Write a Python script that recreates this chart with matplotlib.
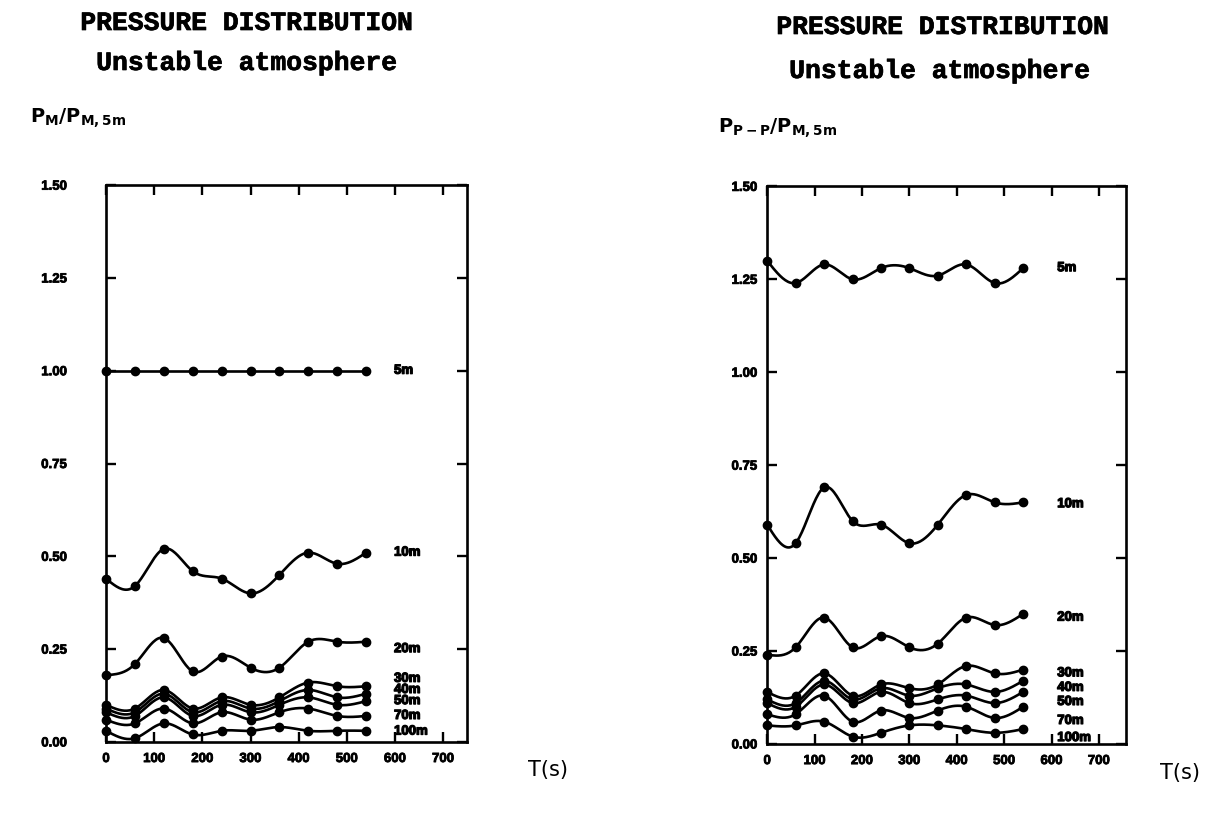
import numpy as np
import matplotlib
matplotlib.use('Agg')
import matplotlib.pyplot as plt
import matplotlib.patheffects as pe

# time of each record (s)
T = [0, 60, 120, 180, 240, 300, 360, 420, 480, 540]

# left panel: P_M / P_M,5m per height
heights_left = ['5m', '10m', '20m', '30m', '40m', '50m', '70m', '100m']
mean_5m = [1.00, 1.00, 1.00, 1.00, 1.00, 1.00, 1.00, 1.00, 1.00, 1.00]
mean_10m = [0.44, 0.42, 0.52, 0.46, 0.44, 0.40, 0.45, 0.51, 0.48, 0.51]
mean_20m = [0.18, 0.21, 0.28, 0.19, 0.23, 0.20, 0.20, 0.27, 0.27, 0.27]
mean_30m = [0.10, 0.09, 0.14, 0.09, 0.12, 0.10, 0.12, 0.16, 0.15, 0.15]
mean_40m = [0.09, 0.08, 0.13, 0.08, 0.11, 0.09, 0.11, 0.14, 0.12, 0.13]
mean_50m = [0.08, 0.07, 0.12, 0.07, 0.10, 0.08, 0.10, 0.12, 0.10, 0.11]
mean_70m = [0.06, 0.05, 0.09, 0.05, 0.08, 0.06, 0.08, 0.09, 0.07, 0.07]
mean_100m = [0.03, 0.01, 0.05, 0.02, 0.03, 0.03, 0.04, 0.03, 0.03, 0.03]
label_y_left = [1.00, 0.51, 0.25, 0.17, 0.14, 0.11, 0.07, 0.028]

# right panel: P_P-P / P_M,5m per height
heights_right = ['5m', '10m', '20m', '30m', '40m', '50m', '70m', '100m']
pp_5m = [1.30, 1.24, 1.29, 1.25, 1.28, 1.28, 1.26, 1.29, 1.24, 1.28]
pp_10m = [0.59, 0.54, 0.69, 0.60, 0.59, 0.54, 0.59, 0.67, 0.65, 0.65]
pp_20m = [0.24, 0.26, 0.34, 0.26, 0.29, 0.26, 0.27, 0.34, 0.32, 0.35]
pp_30m = [0.14, 0.13, 0.19, 0.13, 0.16, 0.15, 0.16, 0.21, 0.19, 0.20]
pp_40m = [0.12, 0.11, 0.17, 0.12, 0.15, 0.13, 0.15, 0.16, 0.14, 0.17]
pp_50m = [0.11, 0.10, 0.16, 0.11, 0.14, 0.11, 0.12, 0.13, 0.11, 0.14]
pp_70m = [0.08, 0.08, 0.13, 0.06, 0.09, 0.07, 0.09, 0.10, 0.07, 0.10]
pp_100m = [0.05, 0.05, 0.06, 0.02, 0.03, 0.05, 0.05, 0.04, 0.03, 0.04]
label_y_right = [1.28, 0.645, 0.34, 0.19, 0.151, 0.113, 0.062, 0.016]

left_series = [mean_5m, mean_10m, mean_20m, mean_30m, mean_40m, mean_50m, mean_70m, mean_100m]
right_series = [pp_5m, pp_10m, pp_20m, pp_30m, pp_40m, pp_50m, pp_70m, pp_100m]

yticks = [0.0, 0.25, 0.5, 0.75, 1.0, 1.25, 1.5]
xticks = [0, 100, 200, 300, 400, 500, 600, 700]

heavy = [pe.withStroke(linewidth=0.9, foreground='black')]


def natural_spline(x, y, n=200):
    # plain natural cubic spline, so the curves bend through the points like the plotter did
    x = np.asarray(x, float)
    y = np.asarray(y, float)
    k = len(x)
    h = np.diff(x)
    A = np.zeros((k, k))
    b = np.zeros(k)
    A[0, 0] = A[-1, -1] = 1
    for i in range(1, k - 1):
        A[i, i - 1] = h[i - 1]
        A[i, i] = 2 * (h[i - 1] + h[i])
        A[i, i + 1] = h[i]
        b[i] = 6 * ((y[i + 1] - y[i]) / h[i] - (y[i] - y[i - 1]) / h[i - 1])
    M = np.linalg.solve(A, b)
    xs = np.linspace(x[0], x[-1], n)
    j = np.clip(np.searchsorted(x, xs) - 1, 0, k - 2)
    t0 = x[j + 1] - xs
    t1 = xs - x[j]
    hj = h[j]
    ys = (M[j] * t0**3 / (6 * hj) + M[j + 1] * t1**3 / (6 * hj)
          + (y[j] / hj - M[j] * hj / 6) * t0 + (y[j + 1] / hj - M[j + 1] * hj / 6) * t1)
    return xs, ys


def draw_panel(ax, series, names, label_y, label_x, xmax, ypad):
    for vals, nm, ly in zip(series, names, label_y):
        xs, ys = natural_spline(T, vals)
        ax.plot(xs, ys, color='black', lw=1.9, clip_on=False)
        ax.plot(T, vals, 'o', color='black', ms=6, clip_on=False)
        ax.text(label_x, ly, nm, fontsize=9.5, fontweight='bold', family='Liberation Sans',
                va='center', ha='left', path_effects=heavy)
    ax.set_xlim(0, xmax)
    ax.set_ylim(0, 1.5)
    ax.set_xticks(xticks)
    ax.set_yticks(yticks)
    ax.set_yticklabels(['%.2f' % v for v in yticks])
    for s in ax.spines.values():
        s.set_linewidth(1.9)
    ax.tick_params(direction='in', length=7, width=1.7, top=True, right=True,
                   labelsize=9.5)
    ax.tick_params(axis='y', pad=ypad)
    ax.tick_params(axis='x', pad=8)
    for lab in ax.get_xticklabels() + ax.get_yticklabels():
        lab.set_fontweight('bold')
        lab.set_family('Liberation Sans')
        lab.set_path_effects([pe.withStroke(linewidth=0.6, foreground='black')])


fig = plt.figure(figsize=(12.12, 8.2), dpi=100)
ax1 = fig.add_axes([0.0875, 0.094, 0.298, 0.679])
ax2 = fig.add_axes([0.633, 0.0915, 0.296, 0.68])

draw_panel(ax1, left_series, heights_left, label_y_left, 598, 750, 28)
draw_panel(ax2, right_series, heights_right, label_y_right, 612, 757, 7)

title_kw = dict(fontsize=19, fontweight='bold', family='Liberation Mono', ha='center',
                va='center', path_effects=[pe.withStroke(linewidth=0.5, foreground='black')])
fig.text(247 / 1212, 1 - 24 / 820, 'PRESSURE DISTRIBUTION', **title_kw)
fig.text(247 / 1212, 1 - 64 / 820, 'Unstable atmosphere', **title_kw)
fig.text(943 / 1212, 1 - 28 / 820, 'PRESSURE DISTRIBUTION', **title_kw)
fig.text(940 / 1212, 1 - 72 / 820, 'Unstable atmosphere', **title_kw)

plt.rcParams['mathtext.fontset'] = 'dejavusans'
fig.text(30 / 1212, 1 - 118 / 820, r'$\mathbf{P_{M}/P_{M,5m}}$', fontsize=14, va='center', ha='left')
fig.text(718 / 1212, 1 - 128 / 820, r'$\mathbf{P_{P-P}/P_{M,5m}}$', fontsize=14, va='center', ha='left')

fig.text(548 / 1212, 1 - 770 / 820, 'T(s)', fontsize=15, family='DejaVu Sans', ha='center', va='center')
fig.text(1180 / 1212, 1 - 773 / 820, 'T(s)', fontsize=15, family='DejaVu Sans', ha='center', va='center')

fig.savefig('out.png', dpi=100)
